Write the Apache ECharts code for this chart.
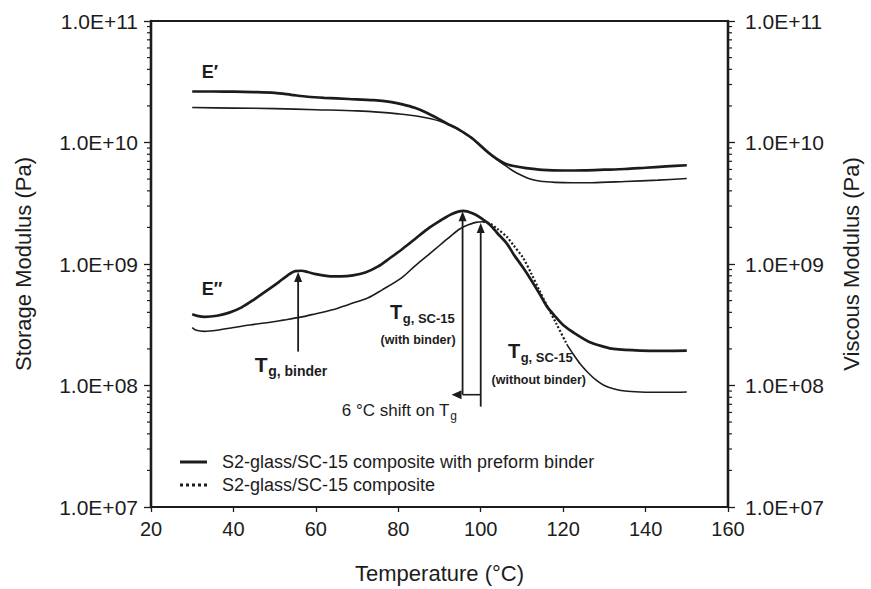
<!DOCTYPE html>
<html>
<head>
<meta charset="utf-8">
<script src="https://cdn.jsdelivr.net/npm/echarts@6/dist/echarts.min.js"></script>
<style>
  html, body { margin: 0; padding: 0; background: #fff; }
  #chart { width: 871px; height: 589px; }
</style>
</head>
<body>
<div id="chart"></div>
<script>
// Temperature axis (°C)
const temperatureRange = [20, 160];
const temperatureStep = 20;
// Modulus axes (Pa), both sides share the same log range
const modulusRange = [1e7, 1e11];

// Storage modulus E' (Pa) vs temperature (°C)
const storageWithBinder = [
  [30, 2.63e10], [35, 2.63e10], [40, 2.62e10], [45, 2.6e10], [50, 2.56e10], [54, 2.47e10],
  [58, 2.38e10], [62, 2.33e10], [68, 2.28e10], [74, 2.23e10], [78, 2.16e10], [81, 2.06e10],
  [84, 1.93e10], [87, 1.75e10], [90, 1.55e10], [92, 1.42e10], [94, 1.32e10], [96, 1.2e10],
  [98, 1.08e10], [100, 9.4e9], [102, 8.2e9], [104, 7.3e9], [106, 6.7e9], [108, 6.4e9],
  [111, 6.15e9], [115, 5.95e9], [120, 5.88e9], [125, 5.9e9], [130, 5.97e9], [135, 6.05e9],
  [140, 6.2e9], [145, 6.35e9], [150, 6.5e9]
];
const storageWithoutBinder = [
  [30, 1.94e10], [40, 1.92e10], [50, 1.9e10], [60, 1.86e10], [70, 1.82e10], [76, 1.77e10],
  [80, 1.72e10], [84, 1.66e10], [87, 1.59e10], [90, 1.5e10], [92, 1.41e10], [94, 1.31e10],
  [96, 1.2e10], [98, 1.07e10], [100, 9.3e9], [102, 8.1e9], [104, 7.2e9], [106, 6.45e9],
  [108, 5.8e9], [110, 5.35e9], [112, 5.0e9], [114.5, 4.8e9], [118, 4.7e9], [122, 4.66e9],
  [127, 4.67e9], [135, 4.78e9], [143, 4.9e9], [150, 5.05e9]
];

// Loss (viscous) modulus E'' (Pa) vs temperature (°C)
const lossWithBinder = [
  [30, 3.86e8], [31.5, 3.72e8], [33, 3.67e8], [36, 3.75e8], [39, 3.98e8], [42, 4.4e8],
  [45, 5.1e8], [48, 6.0e8], [51, 7.1e8], [53, 8.0e8], [55, 8.75e8], [56.5, 8.8e8],
  [58, 8.6e8], [60, 8.25e8], [63, 7.95e8], [66, 7.9e8], [69, 8.05e8], [72, 8.5e8],
  [75, 9.5e8], [78, 1.12e9], [81, 1.33e9], [84, 1.6e9], [87, 1.93e9], [90, 2.25e9],
  [93, 2.58e9], [95.7, 2.74e9], [98, 2.62e9], [100, 2.4e9], [102.3, 2.09e9], [104, 1.8e9],
  [106.3, 1.48e9], [108, 1.2e9], [110.3, 9.3e8], [112, 7.6e8], [114.4, 5.6e8], [116, 4.5e8],
  [118.4, 3.6e8], [120, 3.15e8], [122.5, 2.73e8], [126.5, 2.27e8], [130, 2.08e8],
  [132.2, 2.0e8], [138.7, 1.94e8], [145, 1.93e8], [150, 1.94e8]
];
const lossWithoutBinder = [
  [30, 3.0e8], [31, 2.85e8], [33, 2.79e8], [36, 2.85e8], [40, 3.0e8], [44, 3.15e8],
  [48.5, 3.3e8], [52, 3.45e8], [56.6, 3.67e8], [60, 3.9e8], [64.6, 4.24e8], [68, 4.65e8],
  [72.7, 5.27e8], [76, 6.1e8], [80.8, 7.69e8], [84, 9.6e8], [87.3, 1.19e9], [90, 1.42e9],
  [93, 1.73e9], [95, 1.95e9], [97, 2.1e9], [98.8, 2.2e9], [100.6, 2.23e9], [102.3, 2.15e9],
  [104, 1.95e9], [106.3, 1.68e9], [108, 1.42e9], [110.3, 1.12e9], [112.3, 8.3e8],
  [114.3, 6.0e8], [116.3, 4.4e8], [118.3, 3.25e8], [121, 2.15e8], [122.5, 1.8e8],
  [124.1, 1.51e8], [126, 1.28e8], [128.1, 1.1e8], [130, 1.0e8], [132.2, 9.4e7], [135, 9.0e7],
  [138.7, 8.85e7], [145, 8.8e7], [150, 8.85e7]
];
// Stretch of the unbound E'' trace where the sparse points show as dots
const dottedSpan = [100.6, 121];

const seriesNames = ['S2-glass/SC-15 composite with preform binder', 'S2-glass/SC-15 composite'];

// Glass transition markers (°C) and arrow extents (Pa)
const tgBinder = { t: 55.7, from: 1.9e8, to: 8.6e8 };
const tgWithBinder = { t: 95.6, from: 8.4e7, to: 2.72e9 };
const tgWithoutBinder = { t: 100.0, from: 6.7e7, to: 2.18e9 };

const ink = '#1c1c1c';
const family = '"Liberation Sans", Arial, Helvetica, sans-serif';

function expLabel(v) {
  const e = Math.round(Math.log10(v));
  const m = v / Math.pow(10, e);
  return m.toFixed(1) + 'E' + (e < 0 ? '-' : '+') + String(Math.abs(e)).padStart(2, '0');
}

// minor ticks at 2..9 within each decade
const minorTickValues = [];
for (let e = Math.log10(modulusRange[0]); e < Math.log10(modulusRange[1]); e++) {
  for (let m = 2; m <= 9; m++) minorTickValues.push(m * Math.pow(10, e));
}

const solidPart = lossWithoutBinder.map(([t, v]) => (t > dottedSpan[0] && t < dottedSpan[1]) ? [t, null] : [t, v]);
const dottedPart = lossWithoutBinder.filter(([t]) => t >= dottedSpan[0] && t <= dottedSpan[1]);

function modulusAxis(position, name, gap, labelMargin) {
  return {
    type: 'log', logBase: 10, min: modulusRange[0], max: modulusRange[1], position,
    name, nameLocation: 'middle', nameGap: gap,
    nameTextStyle: { fontSize: 22, color: ink, fontFamily: family },
    axisLine: { show: true, lineStyle: { color: ink, width: 2.4 } },
    axisTick: { show: true, inside: false, length: 7, lineStyle: { color: ink, width: 1.3 } },
    minorTick: { show: false },
    axisLabel: { formatter: expLabel, fontSize: 21, color: ink, fontFamily: family, margin: labelMargin },
    splitLine: { show: false }
  };
}

const lineSeries = (name, axis, data, width, z, type) => ({
  name, type: 'line', yAxisIndex: axis, data,
  showSymbol: false, symbol: 'none', smooth: 0.3, silent: true, connectNulls: false,
  itemStyle: { color: ink },
  lineStyle: { color: ink, width, type: type || 'solid' }, z
});

const chart = echarts.init(document.getElementById('chart'), null, { renderer: 'svg' });

chart.setOption({
  animation: false,
  backgroundColor: '#fff',
  grid: { left: 151, right: 143, top: 21, bottom: 78, show: true, borderColor: ink, borderWidth: 2.2, backgroundColor: 'transparent' },
  xAxis: {
    type: 'value', min: temperatureRange[0], max: temperatureRange[1], interval: temperatureStep,
    name: 'Temperature (°C)', nameLocation: 'middle', nameGap: 55,
    nameTextStyle: { fontSize: 22, color: ink, fontFamily: family },
    axisLine: { lineStyle: { color: ink, width: 2.2 } },
    axisTick: { inside: false, length: 5, lineStyle: { color: ink, width: 1.3 } },
    axisLabel: { fontSize: 20, color: ink, fontFamily: family, margin: 12 },
    splitLine: { show: false }
  },
  yAxis: [
    modulusAxis('left', 'Storage Modulus (Pa)', 117, 13),
    modulusAxis('right', 'Viscous Modulus (Pa)', 112, 17)
  ],
  legend: {
    orient: 'vertical', left: 180, top: 453, itemWidth: 27, itemHeight: 12, itemGap: 5,
    selectedMode: false, padding: 0,
    textStyle: { fontSize: 18, color: ink, fontFamily: family, padding: [0, 0, 0, 10] },
    data: [
      { name: seriesNames[0], icon: 'path://M0,0H27V3H0Z', itemStyle: { color: ink } },
      { name: seriesNames[1], icon: 'path://M0,0h3v3h-3zM6,0h3v3h-3zM12,0h3v3h-3zM18,0h3v3h-3zM24,0h3v3h-3z', itemStyle: { color: ink } }
    ]
  },
  series: [
    lineSeries(seriesNames[1], 1, dottedPart, 2.2, 3, [2, 2]),
    lineSeries(seriesNames[1], 1, solidPart, 1.6, 3),
    lineSeries(seriesNames[1], 0, storageWithoutBinder, 1.6, 3),
    lineSeries(seriesNames[0], 0, storageWithBinder, 2.7, 4),
    lineSeries(seriesNames[0], 1, lossWithBinder, 2.7, 4),
    {
      name: 'minor ticks', type: 'custom', yAxisIndex: 0, silent: true, clip: false, z: 5,
      data: minorTickValues.map(v => [temperatureRange[0], v]),
      encode: { x: 0, y: 1 },
      renderItem(params, api) {
        const v = api.value(1);
        const l = api.coord([temperatureRange[0], v]);
        const r = api.coord([temperatureRange[1], v]);
        const style = { stroke: ink, lineWidth: 1.2 };
        return {
          type: 'group',
          children: [
            { type: 'line', shape: { x1: l[0] - 4, y1: l[1], x2: l[0], y2: l[1] }, style },
            { type: 'line', shape: { x1: r[0], y1: r[1], x2: r[0] + 4, y2: r[1] }, style }
          ]
        };
      }
    }
  ]
});

// ----- annotations, placed through the axes' own scales -----
const px = (t, v) => chart.convertToPixel({ xAxisIndex: 0, yAxisIndex: 0 }, [t, v]);
const measure = document.createElement('canvas').getContext('2d');
function widthOf(str, font) { measure.font = font; return measure.measureText(str).width; }
function fontOf(size, bold) { return (bold ? 'bold ' : '') + size + 'px ' + family; }

const graphics = [];
function text(str, x, y, size, bold, align, vAlign) {
  graphics.push({
    type: 'text', silent: true, z: 10,
    style: { text: str, x, y, fill: ink, font: fontOf(size, bold), align: align || 'left', verticalAlign: vAlign || 'middle' }
  });
}
// main glyph followed by a lowered, smaller subscript; anchor = left/middle of main glyph
function subscripted(main, sub, x, y, mainSize, subSize, bold) {
  text(main, x, y, mainSize, bold);
  const w = widthOf(main, fontOf(mainSize, bold));
  text(sub, x + w + 0.5, y + mainSize * 0.33, subSize, bold);
}
function line(x1, y1, x2, y2, w) {
  graphics.push({ type: 'line', silent: true, z: 9, shape: { x1, y1, x2, y2 }, style: { stroke: ink, lineWidth: w || 1.6 } });
}
function head(tipX, tipY, dir) {
  const L = 10, H = 4;
  let pts;
  if (dir === 'up') pts = [[tipX, tipY], [tipX - H, tipY + L], [tipX + H, tipY + L]];
  else pts = [[tipX, tipY], [tipX + L, tipY - H - 0.5], [tipX + L, tipY + H + 0.5]];
  graphics.push({ type: 'polygon', silent: true, z: 9, shape: { points: pts }, style: { fill: ink } });
}
function upArrow(m) {
  const a = px(m.t, m.from), b = px(m.t, m.to);
  line(a[0], a[1], b[0], b[1] + 6, 1.8);
  head(b[0], b[1], 'up');
}

upArrow(tgBinder);
upArrow(tgWithBinder);
upArrow(tgWithoutBinder);
// horizontal shift marker between the two SC-15 transitions
{
  const a = px(tgWithoutBinder.t, tgWithBinder.from), b = px(tgWithBinder.t, tgWithBinder.from);
  line(a[0], a[1], b[0], b[1], 1.6);
  head(b[0] - 11, b[1], 'left');
}

// curve family labels
{ const p = px(34.3, 3.84e10); text('E\u2032', p[0], p[1], 18, true, 'center'); }
{ const p = px(34.8, 6.25e8); text('E\u2033', p[0], p[1], 18, true, 'center'); }
// transition labels
{ const p = px(45.2, 1.5e8); subscripted('T', 'g, binder', p[0], p[1], 21, 14, true); }
{ const p = px(78.0, 4.0e8); subscripted('T', 'g, SC-15', p[0], p[1], 20, 13, true); }
{ const p = px(84.8, 2.35e8); text('(with binder)', p[0], p[1], 12.5, true, 'center'); }
{ const p = px(106.6, 1.92e8); subscripted('T', 'g, SC-15', p[0], p[1], 20, 13, true); }
{ const p = px(114.1, 1.11e8); text('(without binder)', p[0], p[1], 12.5, true, 'center'); }
{ const p = px(66.3, 6.2e7); subscripted('6 \u00B0C shift on T', 'g', p[0], p[1], 17, 12, false); }

chart.setOption({ graphic: graphics });
</script>
</body>
</html>
